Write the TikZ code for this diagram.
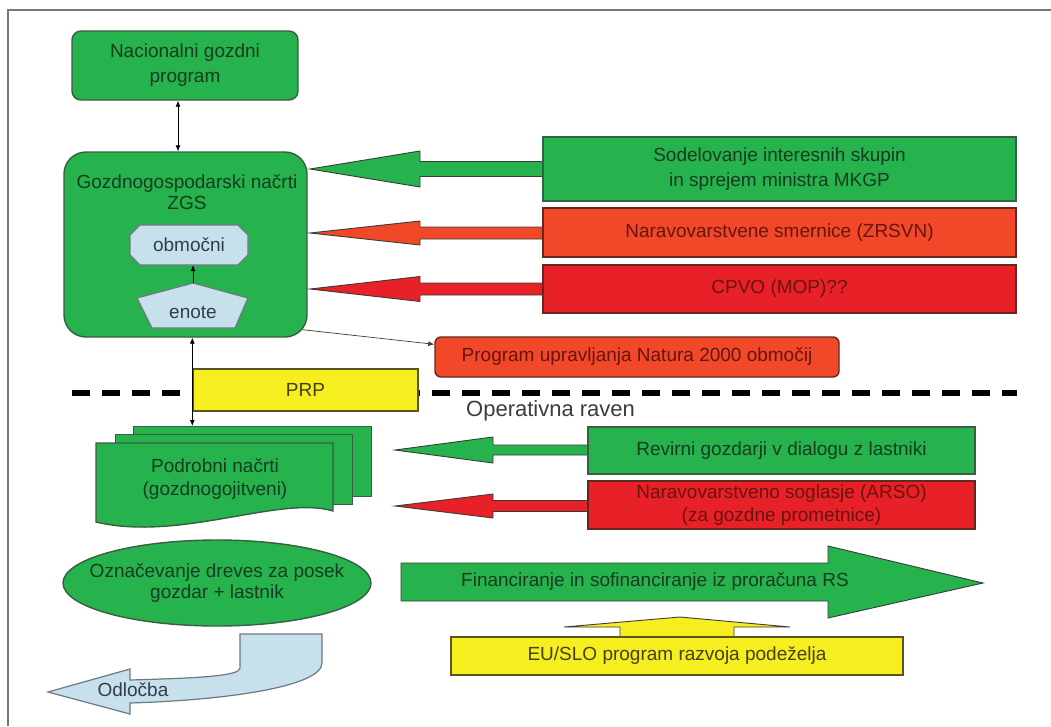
\documentclass[tikz,border=0pt]{standalone}
\usepackage{fontspec}
\setmainfont{Liberation Sans}
\usetikzlibrary{shapes.geometric,arrows.meta,calc}
\definecolor{gr}{RGB}{38,178,76}
\definecolor{grline}{RGB}{55,95,65}
\definecolor{orr}{RGB}{240,72,40}
\definecolor{rd}{RGB}{232,32,40}
\definecolor{rdline}{RGB}{100,40,30}
\definecolor{yl}{RGB}{246,238,30}
\definecolor{ylline}{RGB}{90,85,30}
\definecolor{lb}{RGB}{198,225,235}
\definecolor{lbline}{RGB}{110,120,130}
\definecolor{txg}{RGB}{22,60,34}
\definecolor{txr}{RGB}{105,20,15}
\definecolor{txy}{RGB}{70,65,20}
\definecolor{txb}{RGB}{50,60,75}
\definecolor{opgray}{RGB}{60,60,60}
\definecolor{framegray}{RGB}{120,120,120}
\definecolor{arrline}{RGB}{60,60,55}
\newcommand\lblk[7]{%
  \draw[#1] (#2,#3) -- (#4,#3-#6) -- (#4,#3-#7) -- (#5,#3-#7) -- (#5,#3+#7) -- (#4,#3+#7) -- (#4,#3+#6) -- cycle;}
\begin{document}
\begin{tikzpicture}[x=1pt,y=-1pt,
  every node/.style={font=\fontsize{19}{23}\selectfont, align=center, inner sep=0pt},
  greenbox/.style={fill=gr, draw=grline, line width=1.4pt, text=txg},
  redbox/.style={fill=rd, draw=rdline, line width=1.4pt, text=txr},
  orbox/.style={fill=orr, draw=rdline, line width=1.4pt, text=txr},
  yelbox/.style={fill=yl, draw=ylline, line width=1.4pt, text=txy},
  bluebox/.style={fill=lb, draw=lbline, line width=1.2pt, text=txb},
  blk/.style={line width=0.9pt, draw=arrline},
  thinline/.style={line width=0.8pt, draw=black},
  dbl/.style={thinline, {Latex[length=6pt,width=5pt]}-{Latex[length=6pt,width=5pt]}},
  sgl/.style={thinline, -{Latex[length=6pt,width=5pt]}}
]
\fill[white] (0,0) rectangle (1051,726);
\useasboundingbox (0,0) rectangle (1051,726);
\draw[framegray, line width=1.5pt] (8,726) -- (8,10) -- (1051,10);

% top level
\node[greenbox, rounded corners=9pt, minimum width=226, minimum height=69, font=\fontsize{19}{25}\selectfont] (nac) at (185,65.5) {Nacionalni gozdni\\program};
\node[greenbox, rounded corners=22pt, minimum width=243, minimum height=185] (zgs) at (185.5,244.5) {};
\node[text=txg, font=\fontsize{19}{21}\selectfont] (zgst) at (187,192) {Gozdnogospodarski načrti\\ZGS};
\draw[dbl] ([xshift=-7pt]nac.south) -- ([xshift=-7pt]nac.south |- zgs.north);

% obmocni and enote
\draw[bluebox] (130,235) -- (140,225) -- (238,225) -- (248,235) -- (248,255) -- (238,265) -- (140,265) -- (130,255) -- cycle;
\node[text=txb, minimum width=118, minimum height=40] (obm) at (189,245) {območni};
\draw[bluebox] (193,283) -- (248,298) -- (235,328) -- (152,328) -- (137,298) -- cycle;
\node[text=txb] (eno) at (193,312) {enote};
\coordinate (enotop) at (193,283);
\draw[sgl] (enotop) -- (enotop |- obm.south);

% right boxes with block arrows
\lblk{blk,fill=gr}{310}{169}{420}{546}{18}{7.5}
\node[greenbox, minimum width=473, minimum height=64, font=\fontsize{19}{25}\selectfont] (sod) at (779.5,169) {Sodelovanje interesnih skupin\\in sprejem ministra MKGP};
\lblk{blk,fill=orr}{310}{233}{420}{546}{12}{6}
\node[orbox, minimum width=473, minimum height=49] (nar) at (779.5,232.5) {Naravovarstvene smernice (ZRSVN)};
\lblk{blk,fill=rd}{310}{289}{420}{546}{12.5}{6}
\node[redbox, minimum width=473, minimum height=48] (cpvo) at (779.5,289) {CPVO (MOP)??};

\node[orbox, rounded corners=6pt, minimum width=404, minimum height=40] (nat) at (637,357) {Program upravljanja Natura 2000 območij};
\draw[sgl, line width=0.7pt, draw=arrline] ($(zgs.south east)+(-5,-8)$) -- ($(nat.north west)+(0,8)$);

% dashed separator
\coordinate (dl1) at (72,393);
\coordinate (dl2) at (1017,393);
\draw[line width=5.5pt, dash pattern=on 18pt off 12pt] (dl1) -- (dl2);
\node[yelbox, minimum width=225, minimum height=42] (prp) at (305.5,390) {PRP};
\node[anchor=west, font=\fontsize{22}{26}\selectfont, text=opgray] (op) at (466,411) {Operativna raven};

% podrobni nacrti stack
\node[greenbox, minimum width=238, minimum height=70, anchor=north west] (podB) at (133,426) {};
\node[greenbox, minimum width=237, minimum height=70, anchor=north west] (podM) at (115,434) {};
\draw[greenbox] (96,443) -- (333,443) -- (333,511) .. controls (280,495) and (180,542) .. (96,522) -- cycle;
\node[text=txg] (pod) at (215,479) {Podrobni načrti\\(gozdnogojitveni)};
\draw[dbl] (prp.west |- zgs.south) -- (prp.west |- podB.north);

\lblk{blk,fill=gr}{395}{450}{493}{590}{13}{5}
\node[greenbox, minimum width=387, minimum height=47] (rev) at (781.5,450.5) {Revirni gozdarji v dialogu z lastniki};
\lblk{blk,fill=rd}{395}{506}{493}{590}{12}{5.5}
\node[redbox, minimum width=387, minimum height=48] (sog) at (781.5,505) {Naravovarstveno soglasje (ARSO)\\(za gozdne prometnice)};

% oznacevanje
\draw[greenbox] (217,583) ellipse [x radius=154, y radius=43];
\node[text=txg, font=\fontsize{19}{21}\selectfont] (ozn) at (217,583) {Označevanje dreves za posek\\gozdar + lastnik};

% financiranje
\draw[blk, fill=gr] (401,563) -- (828,563) -- (828,546) -- (983,583) -- (828,618) -- (828,601) -- (401,601) -- cycle;
\node[text=txg] (fin) at (655,582) {Financiranje in sofinanciranje iz proračuna RS};

% EU / SLO
\draw[blk, fill=yl] (620,639) -- (620,627) -- (564,627) -- (680,617) -- (790,627) -- (734,627) -- (734,639);
\node[yelbox, minimum width=452, minimum height=38] (eu) at (677,656) {EU/SLO program razvoja podeželja};

% odlocba
\draw[bluebox] (240,634) -- (322,634) -- (322,663) .. controls (322,686) and (230,700) .. (130,703) -- (130,714) -- (48,692) -- (130,669) -- (130,680) .. controls (200,678) and (240,676) .. (240,668) -- cycle;
\node[text=txb] (odl) at (133,690) {Odločba};
\end{tikzpicture}
\end{document}
